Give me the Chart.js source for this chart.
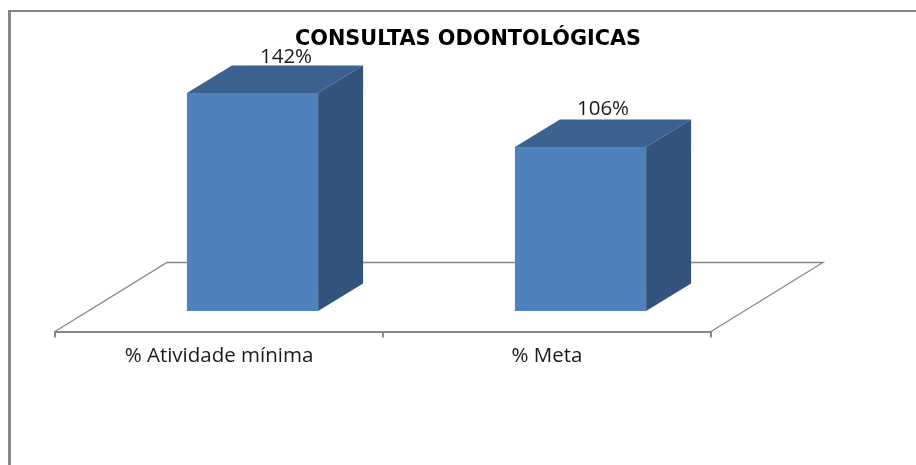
<!DOCTYPE html>
<html>
<head>
<meta charset="utf-8">
<style>
  html, body { margin: 0; padding: 0; background: #fff; }
  #wrap { width: 916px; height: 465px; overflow: hidden; }
</style>
<script src="https://cdn.jsdelivr.net/npm/chart.js@4"></script>
</head>
<body>
<div id="wrap"><canvas id="chart" width="916" height="465"></canvas></div>
<script>
const categories = ['% Atividade mínima', '% Meta'];
const values = [142, 106];
const chartTitle = 'CONSULTAS ODONTOLÓGICAS';

const frontColor = '#4F81BD';
const topColor = '#3C6290';
const sideColor = '#32547C';
const lineColor = '#868686';
const textColor = '#1a1a1a';

// fake 3d: bars sit inside a sheared floor, same slope for both
const floorDepth = { x: 112, y: 69 };
const barOffset = { x: 33.5, y: 20.5 };
const barDepth = { x: 45, y: 27.5 };
const labelNudge = [{ x: 11, y: 2 }, { x: 0, y: 0 }];

const fake3d = {
    id: 'fake3d',
    beforeDraw(chart) {
        const ctx = chart.ctx;
        ctx.save();
        ctx.fillStyle = lineColor;
        ctx.fillRect(8, 10, 3, 455);
        ctx.fillRect(8, 10, 908, 2);
        ctx.restore();
    },
    beforeDatasetsDraw(chart) {
        const ctx = chart.ctx;
        const { left, right, bottom } = chart.chartArea;
        ctx.save();
        ctx.strokeStyle = lineColor;
        ctx.lineWidth = 1.3;
        ctx.beginPath();
        ctx.moveTo(left, bottom);
        ctx.lineTo(left + floorDepth.x, bottom - floorDepth.y);
        ctx.lineTo(right + floorDepth.x, bottom - floorDepth.y);
        ctx.lineTo(right, bottom);
        ctx.stroke();
        ctx.restore();
    },
    beforeDatasetDraw(chart) {
        const ctx = chart.ctx;
        const meta = chart.getDatasetMeta(0);
        ctx.save();
        ctx.translate(barOffset.x, 0);
        meta.data.forEach((bar, i) => {
            const l = bar.x - bar.width / 2;
            const r = bar.x + bar.width / 2;
            const t = bar.y;
            const b = bar.base;
            const dx = barDepth.x;
            const dy = barDepth.y;

            const label = values[i] + '%';
            ctx.font = '20.5px "Open Sans"';
            ctx.fillStyle = textColor;
            ctx.textAlign = 'center';
            ctx.textBaseline = 'alphabetic';
            ctx.fillText(label, bar.x + dx / 2 + labelNudge[i].x, t - dy - 5 + labelNudge[i].y);

            ctx.fillStyle = topColor;
            ctx.beginPath();
            ctx.moveTo(l, t);
            ctx.lineTo(l + dx, t - dy);
            ctx.lineTo(r + dx, t - dy);
            ctx.lineTo(r, t);
            ctx.closePath();
            ctx.fill();

            ctx.fillStyle = sideColor;
            ctx.beginPath();
            ctx.moveTo(r, t);
            ctx.lineTo(r + dx, t - dy);
            ctx.lineTo(r + dx, b - dy);
            ctx.lineTo(r, b);
            ctx.closePath();
            ctx.fill();
        });
    },
    afterDatasetDraw(chart) {
        chart.ctx.restore();
    },
    afterLayout(chart) {
        // title is centred a bit right of the canvas centre
        chart.titleBlock.left = 20;
        chart.titleBlock.right = 916;
        chart.titleBlock.top = 2;
    }
};

new Chart(document.getElementById('chart').getContext('2d'), {
    type: 'bar',
    data: {
        labels: categories,
        datasets: [{
            data: values,
            base: -3.33,
            backgroundColor: frontColor,
            borderWidth: 0,
            barPercentage: 0.4,
            categoryPercentage: 1,
            clip: false
        }]
    },
    options: {
        responsive: false,
        animation: false,
        layout: { padding: { left: 55, right: 205, top: 0, bottom: 0 } },
        plugins: {
            legend: { display: false },
            tooltip: { enabled: false },
            title: {
                display: true,
                text: chartTitle,
                color: '#000',
                font: { family: 'DejaVu Sans', size: 20.8, weight: 'bold', lineHeight: '20px' },
                padding: { top: 28, bottom: 0 }
            }
        },
        scales: {
            x: {
                afterFit(scale) { scale.height = 133.5; },
                border: { color: lineColor, width: 2 },
                grid: { color: lineColor, lineWidth: 2, tickWidth: 2, tickColor: lineColor, drawOnChartArea: false, tickLength: 6 },
                ticks: { color: textColor, font: { family: 'Open Sans', size: 20.5 }, padding: 6, maxRotation: 0 }
            },
            y: { display: false, min: -17, max: 172 }
        }
    },
    plugins: [fake3d]
});
</script>
</body>
</html>
